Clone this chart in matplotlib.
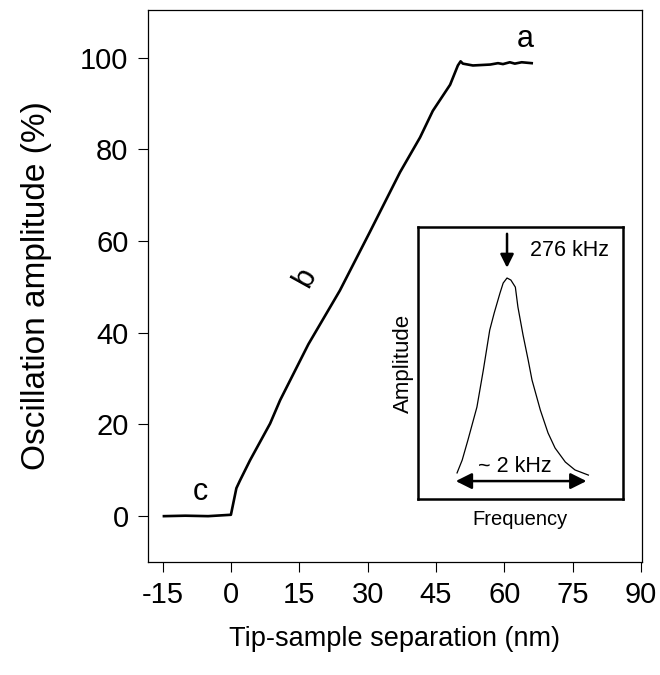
import matplotlib
matplotlib.use("Agg")
import matplotlib.pyplot as plt

plt.rcParams['font.family'] = ['Liberation Sans', 'DejaVu Sans']
plt.rcParams['axes.unicode_minus'] = False

# main approach curve: separation (nm) vs amplitude (%)
sep = [-14.7, -10, -5, 0.0, 1.2, 2.0, 4.2, 6.4, 8.6, 10.8, 17.0, 23.9, 30.5, 37.1,
       41.5, 44.3, 48.1, 49.8, 50.4, 50.9, 53.1, 56.9, 58.6, 59.7, 61.2, 62.3, 63.8, 66.0]
amp = [0.0, 0.1, 0.0, 0.3, 6.1, 7.8, 12.2, 16.2, 20.2, 25.3, 37.5, 49.2, 62.0, 75.0,
       82.6, 88.4, 94.1, 98.3, 99.2, 98.7, 98.3, 98.5, 98.8, 98.6, 99.0, 98.7, 99.0, 98.8]

# inset resonance curve: frequency (kHz) vs amplitude (a.u.)
freq = [275.22, 275.30, 275.39, 275.53, 275.63, 275.73, 275.80, 275.89, 275.94, 276.00,
        276.06, 276.13, 276.17, 276.25, 276.33, 276.39, 276.52, 276.64, 276.75, 276.91,
        277.06, 277.27]
res = [0.096, 0.143, 0.217, 0.338, 0.474, 0.621, 0.684, 0.757, 0.794, 0.8125,
       0.805, 0.779, 0.706, 0.603, 0.511, 0.4375, 0.327, 0.243, 0.1875, 0.136,
       0.107, 0.088]

xticks = [-15, 0, 15, 30, 45, 60, 75, 90]
yticks = [0, 20, 40, 60, 80, 100]

fig = plt.figure(figsize=(6.6, 6.75), dpi=100)
ax = fig.add_axes([0.2242, 0.1674, 0.7485, 0.8178])
ax.plot(sep, amp, color='black', lw=1.9)
ax.set_xlim(-18.2, 90.2)
ax.set_ylim(-10, 110.4)
ax.set_xticks(xticks)
ax.set_yticks(yticks)
ax.tick_params(labelsize=21, length=7, width=0.8, direction='out', pad=7)
ax.set_xlabel('Tip-sample separation (nm)', fontsize=19.5, labelpad=12)
ax.set_ylabel('Oscillation amplitude (%)', fontsize=24, labelpad=20)
for s in ax.spines.values():
    s.set_linewidth(0.9)

ax.text(64.5, 104, 'a', fontsize=22, ha='center', va='center')
ax.text(16.2, 52, 'b', fontsize=22, ha='center', va='center', rotation=61)
ax.text(-6.8, 5.2, 'c', fontsize=22, ha='center', va='center')

# inset
ins = fig.add_axes([0.6333, 0.2607, 0.3106, 0.403])
ins.plot(freq, res, color='black', lw=0.9)
ins.set_xlim(274.61, 277.81)
ins.set_ylim(0, 1)
ins.set_xticks([])
ins.set_yticks([])
for s in ins.spines.values():
    s.set_linewidth(1.8)
ins.set_xlabel('Frequency', fontsize=14.5, labelpad=8)
ins.set_ylabel('Amplitude', fontsize=16, labelpad=3)
ins.annotate('', xy=(275.20, 0.066), xytext=(277.24, 0.066),
             arrowprops=dict(arrowstyle='<|-|>', color='black', lw=1.8,
                             mutation_scale=24, shrinkA=0, shrinkB=0))
ins.text(276.12, 0.118, '~ 2 kHz', fontsize=15.5, ha='center', va='center')
ins.annotate('', xy=(276.0, 0.85), xytext=(276.0, 0.975),
             arrowprops=dict(arrowstyle='-|>', color='black', lw=1.8,
                             mutation_scale=20, shrinkA=0, shrinkB=0))
ins.text(276.36, 0.912, '276 kHz', fontsize=15.5, ha='left', va='center')

fig.savefig('out.png', dpi=100)
